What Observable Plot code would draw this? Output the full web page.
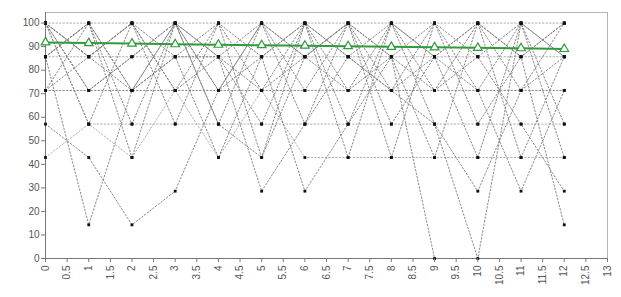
<!DOCTYPE html>
<html>
<head>
<meta charset="utf-8">
<script src="https://cdn.jsdelivr.net/npm/d3@7"></script>
<script src="https://cdn.jsdelivr.net/npm/@observablehq/plot@0.6"></script>
<style>
  html, body { margin: 0; padding: 0; background: #fff; }
  svg { display: block; }
</style>
</head>
<body>
<div id="chart"></div>
<script>
// x positions (time points)
const xs = [0, 1, 2, 3, 4, 5, 6, 7, 8, 9, 10, 11, 12];
// x tick labels
const xTicks = [0, 0.5, 1, 1.5, 2, 2.5, 3, 3.5, 4, 4.5, 5, 5.5, 6, 6.5, 7, 7.5, 8, 8.5, 9, 9.5, 10, 10.5, 11, 11.5, 12, 12.5, 13];
const yTicks = [0, 10, 20, 30, 40, 50, 60, 70, 80, 90, 100];

// individual series (dark dotted)
const s1  = [85.7, 14.3, 71.4, 100, 85.7, 100, 85.7, 100, 71.4, 85.7, 100, 85.7, 100];
const s2  = [57.1, 42.9, 14.3, 28.6, 71.4, 100, 85.7, 100, 85.7, 100, 57.1, 85.7, 100];
const s5  = [85.7, 100, 71.4, 85.7, 85.7, 28.6, 57.1, 85.7, 71.4, 100, 85.7, 100, 85.7];
const s6  = [71.4, 85.7, 100, 71.4, 100, 85.7, 28.6, 57.1, 100, 71.4, 100, 71.4, 85.7];
const s7  = [71.4, 71.4, 71.4, 71.4, 71.4, 71.4, 71.4, 71.4, 71.4, 71.4, 71.4, 71.4, 71.4];
const s10 = [100, 71.4, 85.7, 100, 57.1, 42.9, 100, 71.4, 85.7, 0];
const s11 = [100, 85.7, 71.4, 100, 85.7, 57.1, 100, 85.7, 71.4, 57.1, 0, 100, 85.7];
const s12 = [85.7, 100, 71.4, 85.7, 100, 71.4, 85.7, 71.4, 100, 57.1, 28.6, 71.4, 100];
const s13 = [100, 85.7, 100, 71.4, 85.7, 71.4, 100, 85.7, 100, 85.7, 71.4, 28.6, 71.4];
const s14 = [100, 71.4, 85.7, 100, 71.4, 100, 57.1, 100, 85.7, 71.4, 85.7, 57.1, 28.6];
const s15 = [85.7, 100, 57.1, 100, 71.4, 85.7, 100, 42.9, 100, 85.7, 100, 85.7, 14.3];
const s16 = [100, 85.7, 100, 57.1, 100, 42.9, 85.7, 100, 57.1, 85.7, 42.9, 100, 57.1];
const s17 = [71.4, 100, 42.9, 100, 57.1, 100, 71.4, 100, 42.9, 100, 71.4, 100, 42.9];
const s18 = [100, 57.1, 100, 85.7, 42.9, 85.7, 100, 57.1, 85.7, 42.9, 100, 42.9, 85.7];
// series drawn as lighter gray dotted lines
const s3  = [42.9, 57.1, 57.1, 57.1, 57.1, 57.1, 57.1, 57.1, 57.1, 57.1, 57.1, 57.1, 57.1];
const s4  = [100, 57.1, 42.9, 71.4, 42.9, 71.4, 42.9, 42.9, 42.9, 42.9, 42.9, 42.9, 42.9];
const s8  = [100, 100, 100, 100, 100, 100, 100, 100, 100, 100, 100, 100, 100];
const s9  = [85.7, 85.7, 85.7, 85.7, 85.7, 85.7, 85.7, 85.7, 85.7, 85.7, 85.7, 85.7, 85.7];

// green summary line
const green = [91.8, 91.5, 91.3, 91.0, 90.8, 90.6, 90.4, 90.2, 89.9, 89.7, 89.5, 89.3, 89.0];

const darkSeries = {s1, s2, s5, s6, s7, s10, s11, s12, s13, s14, s15, s16, s17, s18};
const lightSeries = {s3, s4, s8, s9};

function rowsOf(group) {
  const out = [];
  for (const [name, vals] of Object.entries(group)) {
    vals.forEach((v, i) => out.push({x: xs[i], y: v, s: name}));
  }
  return out;
}
const darkRows = rowsOf(darkSeries);
const lightRows = rowsOf(lightSeries);
const allRows = darkRows.concat(lightRows);
const greenRows = green.map((v, i) => ({x: xs[i], y: v}));

const chart = Plot.plot({
  width: 621,
  height: 297,
  marginLeft: 45,
  marginRight: 14,
  marginTop: 12,
  marginBottom: 39,
  style: {fontFamily: "'Liberation Sans', Arial, sans-serif", fontSize: "10px", color: "#555", background: "#fff"},
  x: {domain: [0, 13]},
  y: {domain: [0, 104.5]},
  marks: [
    Plot.frame({stroke: "#b5b5b5"}),
    Plot.ruleY([0], {stroke: "#777"}),
    Plot.ruleX([0], {stroke: "#777"}),
    Plot.line(lightRows, {x: "x", y: "y", z: "s", stroke: "#b0b0b0", strokeWidth: 1, strokeDasharray: "1.5,2"}),
    Plot.line(darkRows, {x: "x", y: "y", z: "s", stroke: "#7a7a7a", strokeWidth: 0.9, strokeDasharray: "1.5,2"}),
    Plot.dot(allRows, {x: "x", y: "y", symbol: "square", r: 1.6, fill: "#111", stroke: "none"}),
    Plot.line(greenRows, {x: "x", y: "y", stroke: "#2f9b3a", strokeWidth: 2}),
    Plot.dot(greenRows, {x: "x", y: "y", symbol: "triangle", r: 3.2, stroke: "#2f9b3a", strokeWidth: 1.2, fill: "#fff"}),
    Plot.axisX({ticks: xTicks, tickFormat: d => String(d), tickRotate: -90, tickSize: 4, tickPadding: 3, stroke: "#777", fill: "#555", label: null}),
    Plot.axisY({ticks: yTicks, tickFormat: d => String(d), tickSize: 4, tickPadding: 2, stroke: "#777", fill: "#555", label: null})
  ]
});
document.getElementById("chart").appendChild(chart);
</script>
</body>
</html>
